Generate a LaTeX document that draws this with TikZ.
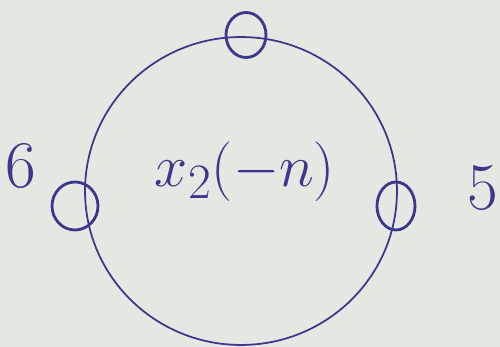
\documentclass[tikz,border=0pt]{standalone}
\usetikzlibrary{shapes.geometric}
\definecolor{ink}{RGB}{58,56,140}
\definecolor{paper}{RGB}{228,232,226}
\begin{document}
\begin{tikzpicture}[
    x=0.02cm, y=-0.02cm,
    ring/.style={ellipse, draw=ink, line width=1pt, inner sep=0pt},
    knot/.style={ellipse, draw=ink, line width=1.6pt, inner sep=0pt},
    lbl/.style={text=ink, inner sep=0pt}
]
    \fill[paper] (0,0) rectangle (500,347);
    \useasboundingbox (0,0) rectangle (500,347);
    \node[ring, minimum width=6.24cm, minimum height=6.16cm] (sig) at (241,191) {};
    \node[knot, minimum width=0.8cm, minimum height=0.9cm] (top) at (246,35) {};
    \node[knot, minimum width=0.92cm, minimum height=0.96cm] (left) at (75,206) {};
    \node[knot, minimum width=0.76cm, minimum height=0.96cm] (right) at (396,206) {};
    \node[lbl, font=\fontsize{24.88}{30}\selectfont] (seq) at (245,172) {\scalebox{1.36}{$x_2(-n)$}};
    \node[lbl, font=\fontsize{38}{44}\selectfont] (six) at (21,166) {6};
    \node[lbl, font=\fontsize{38}{44}\selectfont] (five) at (483,188) {5};
\end{tikzpicture}
\end{document}
